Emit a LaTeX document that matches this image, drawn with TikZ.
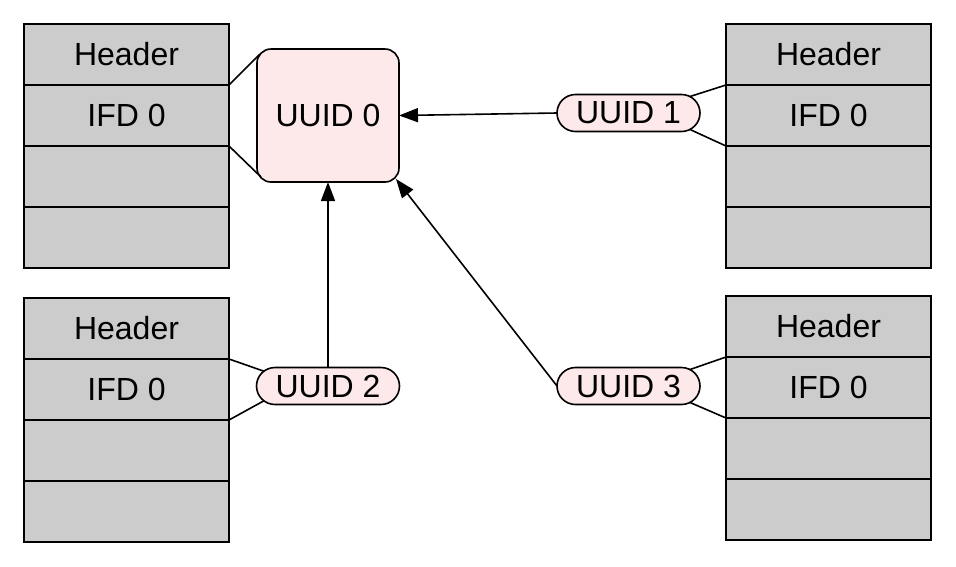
\documentclass[tikz,border=0pt]{standalone}
\usepackage{fontspec}
\setmainfont{Liberation Sans}
\usetikzlibrary{shapes.misc,arrows.meta,calc}
\definecolor{boxgray}{RGB}{204,204,204}
\definecolor{uuidpink}{RGB}{253,232,234}
\begin{document}
\begin{tikzpicture}[x=1pt,y=-1pt,
  txt/.style={font=\fontsize{32}{38}\selectfont},
  row/.style={txt, draw, line width=1.6pt, fill=boxgray, minimum width=205pt, minimum height=61pt, inner sep=0pt, outer sep=0pt},
  uuid/.style={txt, draw, line width=1.6pt, fill=uuidpink, inner sep=0pt, outer sep=0pt},
  pill/.style={uuid, rounded rectangle, minimum width=143pt, minimum height=37pt},
  link/.style={line width=1.6pt},
  ref/.style={line width=1.6pt, -{Triangle[length=19pt,width=14pt]}}]
\useasboundingbox (0,0) rectangle (956,566);
% top-left stack
\node[row] (tl1) at (126.5,54.5) {Header};
\node[row] (tl2) at (126.5,115.5) {IFD 0};
\node[row] (tl3) at (126.5,176.5) {};
\node[row] (tl4) at (126.5,237.5) {};
% bottom-left stack
\node[row] (bl1) at (126.5,328.5) {Header};
\node[row] (bl2) at (126.5,389.5) {IFD 0};
\node[row] (bl3) at (126.5,450.5) {};
\node[row] (bl4) at (126.5,511.5) {};
% top-right stack
\node[row] (tr1) at (828.5,54.5) {Header};
\node[row] (tr2) at (828.5,115.5) {IFD 0};
\node[row] (tr3) at (828.5,176.5) {};
\node[row] (tr4) at (828.5,237.5) {};
% bottom-right stack
\node[row] (br1) at (828.5,326.5) {Header};
\node[row] (br2) at (828.5,387.5) {IFD 0};
\node[row] (br3) at (828.5,448.5) {};
\node[row] (br4) at (828.5,509.5) {};
% UUID nodes
\node[uuid, rounded corners=14pt, minimum width=142pt, minimum height=133pt] (u0) at (328,115.5) {UUID 0};
\node[pill] (u1) at (628.5,113) {UUID 1};
\node[pill] (u2) at (328,386) {UUID 2};
\node[pill] (u3) at (628.5,386) {UUID 3};
% links from stacks
\draw[link] (tl2.north east) -- ($(u0.north west)+(3,5)$);
\draw[link] (tl3.north east) -- ($(u0.south west)+(4,-5)$);
\draw[link] (tr2.north west) -- (u1.15);
\draw[link] (tr3.north west) -- (u1.-15);
\draw[link] (bl2.north east) -- (u2.167);
\draw[link] (bl3.north east) -- (u2.193);
\draw[link] (br2.north west) -- (u3.15);
\draw[link] (br3.north west) -- (u3.-15);
% references
\draw[ref] (u1.west) -- (u0.east);
\draw[ref] (u2.north) -- (u0.south);
\draw[ref] (u3.west) -- ($(u0.south east)+(-3,-3)$);
\end{tikzpicture}
\end{document}
